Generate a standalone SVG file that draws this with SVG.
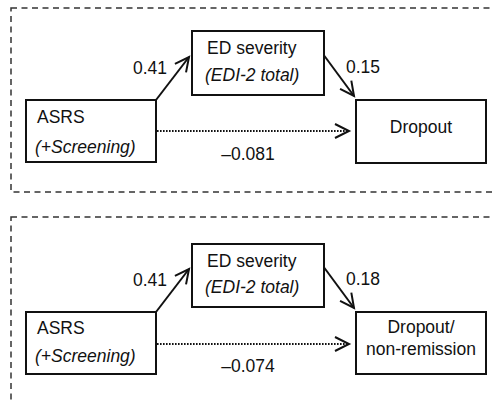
<svg xmlns="http://www.w3.org/2000/svg" width="492" height="400" viewBox="0 0 492 400">
<style>
.panel{fill:none;stroke:#333;stroke-width:1.5;stroke-dasharray:6 4.5}
.box{fill:#fff;stroke:#111;stroke-width:2}
.t{font-family:"Liberation Sans",Arial,sans-serif;font-size:17.5px;fill:#111}
.i{font-style:italic}
.c{text-anchor:middle}
.e{text-anchor:end}
.solid{fill:none;stroke:#111;stroke-width:2;marker-end:url(#ah)}
.dot{fill:none;stroke:#111;stroke-width:2.2;stroke-dasharray:1.6 1.4;marker-end:url(#ah)}
</style>
<defs>
<marker id="ah" markerUnits="userSpaceOnUse" markerWidth="20" markerHeight="20" refX="0" refY="0" viewBox="-15 -10 20 20" orient="auto" overflow="visible">
<path d="M-14,-7 L0,0 L-14,7" fill="none" stroke="#111" stroke-width="2"/>
</marker>
</defs>
<rect width="492" height="400" fill="#fff"/>
<g id="panel-top"><rect class="panel" x="11" y="8" width="495" height="184"/></g>
<g id="panel-bottom"><rect class="panel" x="11" y="217" width="495" height="200"/></g>
<g id="connectors">
<path class="solid" d="M156,100 L189,57"/>
<path class="solid" d="M323,54 L354,96"/>
<path class="dot" d="M157,131 L349,131"/>
<path class="solid" d="M156,312 L189,269"/>
<path class="solid" d="M323,266 L354,308"/>
<path class="dot" d="M157,344 L349,344"/>
</g>
<g id="labels">
<text class="t e" x="167" y="74">0.41</text>
<text class="t" x="346" y="73">0.15</text>
<text class="t c" x="248" y="160">–0.081</text>
<text class="t e" x="167" y="286">0.41</text>
<text class="t" x="346" y="285">0.18</text>
<text class="t c" x="248" y="372">–0.074</text>
</g>
<g id="asrs-top">
<rect class="box" x="26" y="100" width="130" height="62"/>
<text class="t" x="37" y="123">ASRS</text>
<text class="t i" x="35" y="153">(+Screening)</text>
</g>
<g id="ed-top">
<rect class="box" x="192" y="31" width="132" height="64"/>
<text class="t" x="207" y="54">ED severity</text>
<text class="t i" x="205" y="81">(EDI-2 total)</text>
</g>
<g id="dropout-top">
<rect class="box" x="356" y="100" width="130" height="63"/>
<text class="t c" x="421" y="133">Dropout</text>
</g>
<g id="asrs-bottom">
<rect class="box" x="26" y="312" width="130" height="62"/>
<text class="t" x="37" y="334">ASRS</text>
<text class="t i" x="35" y="362">(+Screening)</text>
</g>
<g id="ed-bottom">
<rect class="box" x="192" y="244" width="132" height="63"/>
<text class="t" x="207" y="267">ED severity</text>
<text class="t i" x="205" y="293">(EDI-2 total)</text>
</g>
<g id="dropout-bottom">
<rect class="box" x="356" y="312" width="130" height="62"/>
<text class="t c" x="421" y="333">Dropout/</text>
<text class="t c" x="421" y="355">non-remission</text>
</g>
</svg>
